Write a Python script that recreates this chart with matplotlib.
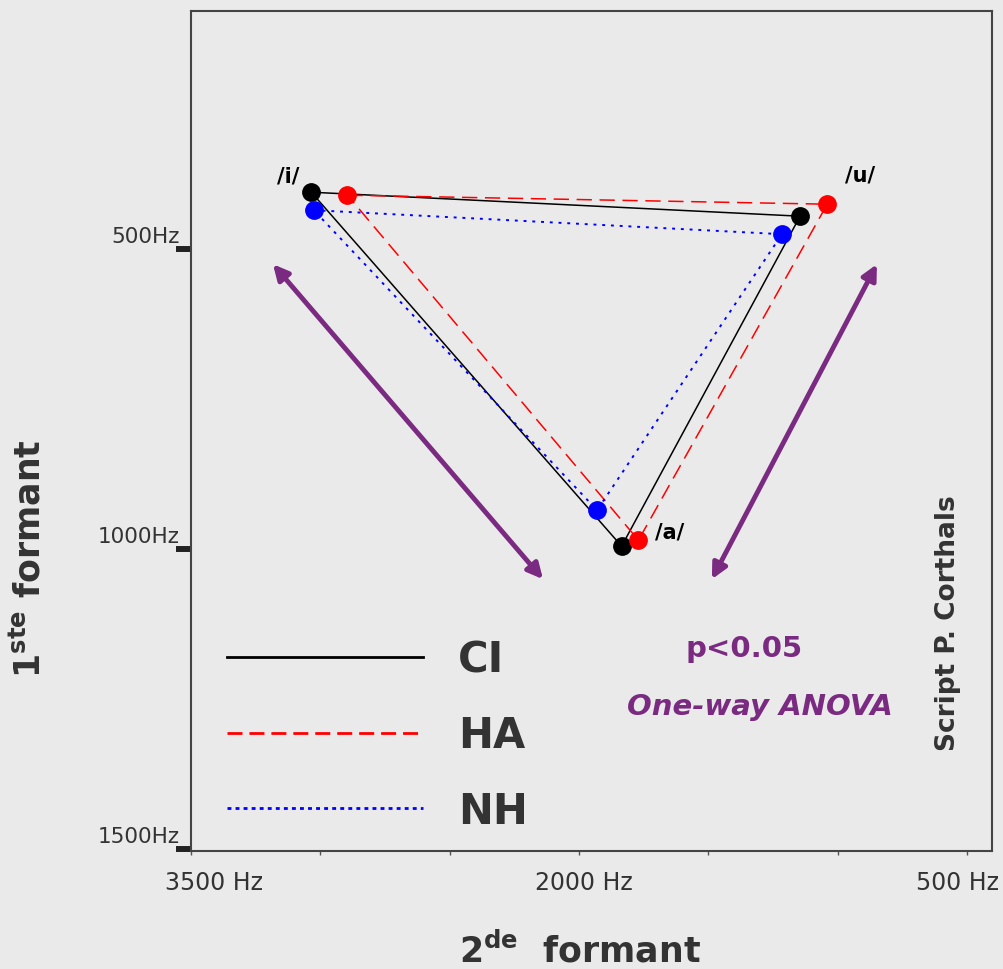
"""
Vowel triangle (F1 / F2) for CI, HA and NH groups.
"""

import matplotlib
matplotlib.use("Agg")
import matplotlib.pyplot as plt
from matplotlib.transforms import offset_copy

BG = "#EAEAEA"
TXT = "#333333"
PURPLE = "#7A2A80"

# vowel order: /i/, /u/, /a/
VOWELS = ["/i/", "/u/", "/a/"]
CI_F2 = [3035, 1145, 1835]
CI_F1 = [405, 445, 995]
HA_F2 = [2895, 1040, 1770]
HA_F1 = [410, 425, 985]
NH_F2 = [3025, 1215, 1930]
NH_F1 = [435, 475, 935]

X_TICKS = [3500, 3000, 2500, 2000, 1500, 1000, 500]
X_LABELS = {3500: "3500 Hz", 2000: "2000 Hz", 500: "500 Hz"}
Y_TICKS = [500, 1000, 1500]
Y_LABELS = ["500Hz", "1000Hz", "1500Hz"]

GROUPS = [
    ("CI", CI_F2, CI_F1, "black", "-", 1.1),
    ("HA", HA_F2, HA_F1, "red", (0, (10, 5)), 1.1),
    ("NH", NH_F2, NH_F1, "blue", (0, (1.5, 3)), 1.4),
]
LEGEND_STYLES = ["-", (0, (5.4, 2.5)), (0, (1.4, 1.5))]

plt.rcParams.update({
    "font.family": "DejaVu Sans",
    "figure.dpi": 100,
})

fig = plt.figure(figsize=(10.04, 9.70), facecolor=BG)
ax = fig.add_axes([191 / 1004, 118 / 970, 801 / 1004, 840 / 970], facecolor=BG)

for name, f2, f1, col, ls, lw in GROUPS:
    xs = f2 + f2[:1]
    ys = f1 + f1[:1]
    ax.plot(xs, ys, color=col, linestyle=ls, linewidth=lw, label=name, zorder=2)
for name, f2, f1, col, ls, lw in GROUPS:
    ax.plot(f2, f1, "o", color=col, markersize=12.5, linestyle="none", zorder=3)

# vowel labels next to the CI/HA points
label_pos = {"/i/": (3125, 378), "/u/": (915, 375), "/a/": (1650, 970)}
for v in VOWELS:
    ax.text(*label_pos[v], v, fontsize=15, fontweight="bold", color="black",
            ha="center", va="center", zorder=4)

ax.set_xlim(3500, 403)
ax.set_ylim(1503, 103)

# axes ticks
ax.set_xticks(X_TICKS)
ax.set_xticklabels([])
ax.tick_params(axis="x", direction="out", length=3, width=1, color="#555")
ax.set_yticks(Y_TICKS)
ax.set_yticklabels([])
ax.tick_params(axis="y", direction="out", length=10.5, width=4.3,
               color="#222", pad=0)
for sp in ax.spines.values():
    sp.set_color("#444")
    sp.set_linewidth(1.5)

xt = ax.get_xaxis_transform()
for val, lbl in X_LABELS.items():
    dx = {3500: 23, 2000: 5, 500: -9}[val]
    tr = offset_copy(xt, fig=fig, x=dx, y=0, units="dots")
    ax.text(val, -0.037, lbl, transform=tr, ha="center", va="center",
            fontsize=17, color=TXT)

yt = ax.get_yaxis_transform()
for val, lbl in zip(Y_TICKS, Y_LABELS):
    tr = offset_copy(yt, fig=fig, x=-11, y=13, units="dots")
    ax.text(0, val, lbl, transform=tr, ha="right", va="center",
            fontsize=15.5, color=TXT)

# group-difference arrows
arrow_kw = dict(arrowstyle="<|-|>,head_length=0.9,head_width=0.45",
                color=PURPLE, lw=3.5, shrinkA=0, shrinkB=0)
ax.annotate("", xy=(3183, 525), xytext=(2139, 1050), arrowprops=arrow_kw)
ax.annotate("", xy=(848, 525), xytext=(1486, 1050), arrowprops=arrow_kw)

ax.text(1360, 1165, "p<0.05", fontsize=21, fontweight="bold", color=PURPLE,
        ha="center", va="center")
ax.text(1300, 1262, "One-way ANOVA", fontsize=21, fontweight="bold",
        style="italic", color=PURPLE, ha="center", va="center")
ax.text(572, 1122, "Script P. Corthals", fontsize=19, fontweight="bold",
        color=TXT, rotation=90, ha="center", va="center")

leg = ax.legend(loc="upper left", bbox_to_anchor=(0.045, 0.253),
                frameon=False, fontsize=30, handlelength=4.7,
                handletextpad=0.85, labelspacing=0.81, borderpad=0,
                borderaxespad=0)
for t in leg.get_texts():
    t.set_fontweight("bold")
    t.set_color(TXT)
for h, ls in zip(leg.get_lines(), LEGEND_STYLES):
    h.set_linewidth(2)
    h.set_linestyle(ls)

fig.text(30 / 1004, 1 - 559 / 970, r"$\mathbf{1^{ste}}$ formant",
         rotation=90, ha="center", va="center", fontsize=25,
         fontweight="bold", color=TXT)
fig.text(580 / 1004, 1 - 951 / 970, r"$\mathbf{2^{de}}$  formant",
         ha="center", va="center", fontsize=25, fontweight="bold", color=TXT)

fig.savefig("out.png", dpi=100, facecolor=BG)
print("Saved: out.png")
